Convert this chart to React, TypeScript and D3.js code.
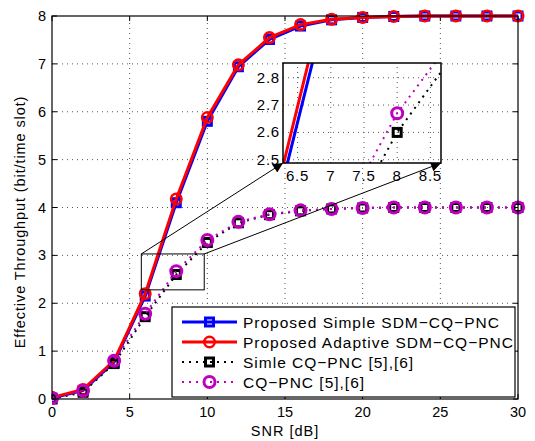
import * as d3 from 'd3';

// SNR points (dB)
const snr = [0, 2, 4, 6, 8, 10, 12, 14, 16, 18, 20, 22, 24, 26, 28, 30];

// effective throughput (bit/time slot)
const simpleSdm = [0.02, 0.18, 0.77, 2.15, 4.1, 5.8, 6.94, 7.51, 7.79, 7.92, 7.97, 7.99, 8, 8, 8, 8];
const adaptiveSdm = [0.03, 0.2, 0.8, 2.2, 4.18, 5.88, 6.98, 7.55, 7.82, 7.93, 7.97, 7.99, 8, 8, 8, 8];
const simpleCq = [0.0, 0.14, 0.74, 1.72, 2.6, 3.27, 3.68, 3.85, 3.93, 3.97, 3.99, 4, 4, 4, 4, 4];
const cqPnc = [0.02, 0.17, 0.8, 1.78, 2.67, 3.32, 3.7, 3.86, 3.94, 3.97, 3.99, 4, 4, 4, 4, 4];

const labels = [
  'Proposed Simple SDM\u2212CQ\u2212PNC',
  'Proposed Adaptive SDM\u2212CQ\u2212PNC',
  'Simle CQ\u2212PNC [5],[6]',
  'CQ\u2212PNC [5],[6]',
];

const xTicks = [0, 5, 10, 15, 20, 25, 30];
const yTicks = [0, 1, 2, 3, 4, 5, 6, 7, 8];

// zoomed area
const zoomBox = { x0: 5.75, x1: 9.8, y0: 2.28, y1: 3.03 };
const insetXDomain = [6.28, 8.66];
const insetYDomain = [2.488, 2.854];
const insetXTicks = [6.5, 7, 7.5, 8, 8.5];
const insetYTicks = [2.5, 2.6, 2.7, 2.8];

const font = '"Liberation Sans", Arial, sans-serif';
const MAG = '#bf00bf';

const series = [
  { name: labels[0], data: simpleSdm, color: '#0000ff', width: 3, dash: '', marker: 'square' },
  { name: labels[1], data: adaptiveSdm, color: '#ff0000', width: 3, dash: '', marker: 'circle' },
  { name: labels[2], data: simpleCq, color: '#000000', width: 2, dash: '2,5', marker: 'square' },
  { name: labels[3], data: cqPnc, color: MAG, width: 2, dash: '2,5', marker: 'circle' },
];

function Marker({ type, x, y, color }: { type: string; x: number; y: number; color: string }) {
  if (type === 'square') {
    const s = 8;
    return <rect x={x - s / 2} y={y - s / 2} width={s} height={s} fill="none" stroke={color} strokeWidth={3} />;
  }
  return <circle cx={x} cy={y} r={color === MAG ? 5.5 : 5.2} fill="none" stroke={color} strokeWidth={color === MAG ? 3 : 2.6} />;
}

export default function App() {
  const W = 535, H = 441;
  const x = d3.scaleLinear().domain([0, 30]).range([52, 518]);
  const y = d3.scaleLinear().domain([0, 8]).range([399, 16]);
  const ix = d3.scaleLinear().domain(insetXDomain).range([283, 441]);
  const iy = d3.scaleLinear().domain(insetYDomain).range([163, 63]);

  const mkLine = (sx: d3.ScaleLinear<number, number>, sy: d3.ScaleLinear<number, number>) =>
    d3.line<number>().x((_, i) => sx(snr[i])).y(d => sy(d));

  const mainLine = mkLine(x, y);
  const insetLine = mkLine(ix, iy);

  const [x0, x1] = x.range();
  const [y0, y1] = y.range();
  const [ix0, ix1] = ix.range();
  const [iy0, iy1] = iy.range();

  const rx0 = x(zoomBox.x0), rx1 = x(zoomBox.x1), ry0 = y(zoomBox.y1), ry1 = y(zoomBox.y0);

  const grid = { stroke: '#555', strokeWidth: 1, strokeDasharray: '1,4' };

  return (
    <svg width={W} height={H} style={{ position: 'absolute', left: 0, top: 0, background: '#fff' }} fontFamily={font}>
      <defs>
        <marker id="arr" viewBox="0 0 10 10" refX="10" refY="5" markerWidth="14" markerHeight="10" markerUnits="userSpaceOnUse" orient="auto">
          <path d="M0,0 L10,5 L0,10 z" fill="#000" />
        </marker>
        <clipPath id="mainClip">
          <rect x={x0} y={y1 - 8} width={x1 - x0 + 8} height={y0 - y1 + 16} />
        </clipPath>
        <clipPath id="insetClip">
          <rect x={ix0} y={iy1} width={ix1 - ix0} height={iy0 - iy1} />
        </clipPath>
      </defs>

      {/* main grid */}
      {xTicks.slice(1, -1).map(t => (
        <line key={'gx' + t} x1={x(t)} x2={x(t)} y1={y0} y2={y1} {...grid} />
      ))}
      {yTicks.slice(1, -1).map(t => (
        <line key={'gy' + t} x1={x0} x2={x1} y1={y(t)} y2={y(t)} {...grid} />
      ))}

      {/* main ticks */}
      {xTicks.map(t => (
        <g key={'tx' + t}>
          <line x1={x(t)} x2={x(t)} y1={y0} y2={y0 - 5} stroke="#000" />
          <line x1={x(t)} x2={x(t)} y1={y1} y2={y1 + 5} stroke="#000" />
          <text x={x(t)} y={y0 + 18} textAnchor="middle" fontSize={14.5}>{t}</text>
        </g>
      ))}
      {yTicks.map(t => (
        <g key={'ty' + t}>
          <line x1={x0} x2={x0 + 5} y1={y(t)} y2={y(t)} stroke="#000" />
          <line x1={x1} x2={x1 - 5} y1={y(t)} y2={y(t)} stroke="#000" />
          <text x={x0 - 6} y={y(t) + 5} textAnchor="end" fontSize={14.5}>{t}</text>
        </g>
      ))}

      {/* series */}
      <g clipPath="url(#mainClip)">
        {series.map(s => (
          <g key={s.name}>
            <path d={mainLine(s.data) || ''} fill="none" stroke={s.color} strokeWidth={s.width}
              strokeDasharray={s.dash || undefined} />
            {s.data.map((v, i) => (
              <Marker key={i} type={s.marker} x={x(snr[i])} y={y(v)} color={s.color} />
            ))}
          </g>
        ))}
      </g>

      <rect x={x0} y={y1} width={x1 - x0} height={y0 - y1} fill="none" stroke="#000" strokeWidth={1.2} />

      {/* zoom box + connectors */}
      <rect x={rx0} y={ry0} width={rx1 - rx0} height={ry1 - ry0} fill="none" stroke="#000" strokeWidth={1} />
      <line x1={rx0} y1={ry0} x2={ix0} y2={iy0} stroke="#000" strokeWidth={1} markerEnd="url(#arr)" />
      <line x1={rx1} y1={ry0} x2={ix1} y2={iy0} stroke="#000" strokeWidth={1} markerEnd="url(#arr)" />

      {/* inset */}
      <rect x={ix0} y={iy1} width={ix1 - ix0} height={iy0 - iy1} fill="#fff" />
      {insetXTicks.map(t => (
        <line key={'igx' + t} x1={ix(t)} x2={ix(t)} y1={iy0} y2={iy1} {...grid} />
      ))}
      {insetYTicks.map(t => (
        <line key={'igy' + t} x1={ix0} x2={ix1} y1={iy(t)} y2={iy(t)} {...grid} />
      ))}
      <g clipPath="url(#insetClip)">
        {series.map(s => (
          <g key={'i' + s.name}>
            <path d={insetLine(s.data) || ''} fill="none" stroke={s.color} strokeWidth={s.width}
              strokeDasharray={s.dash || undefined} />
            {s.data.map((v, i) => (
              <Marker key={i} type={s.marker} x={ix(snr[i])} y={iy(v)} color={s.color} />
            ))}
          </g>
        ))}
      </g>
      <rect x={ix0} y={iy1} width={ix1 - ix0} height={iy0 - iy1} fill="none" stroke="#000" strokeWidth={1.5} />
      {insetXTicks.map(t => (
        <text key={'itx' + t} x={ix(t)} y={iy0 + 18} textAnchor="middle" fontSize={15} letterSpacing={0.8}>{t}</text>
      ))}
      {insetYTicks.map(t => (
        <text key={'ity' + t} x={ix0 - 3} y={iy(t) + 5} textAnchor="end" fontSize={15} letterSpacing={0.8}>{t}</text>
      ))}

      {/* legend */}
      <g>
        <rect x={172} y={307} width={343} height={90} fill="#fff" stroke="#000" strokeWidth={1.2} />
        {series.map((s, i) => {
          const ly = 322 + i * 20;
          return (
            <g key={'lg' + i}>
              <line x1={182} x2={237} y1={ly} y2={ly} stroke={s.color} strokeWidth={s.width}
                strokeDasharray={s.dash || undefined} />
              <Marker type={s.marker} x={209.5} y={ly} color={s.color} />
              <text x={243} y={ly + 5.5} fontSize={15.5} letterSpacing={1}>{s.name}</text>
            </g>
          );
        })}
      </g>

      {/* axis labels */}
      <text x={(x0 + x1) / 2} y={436} textAnchor="middle" fontSize={14.5} letterSpacing={1}>SNR [dB]</text>
      <text transform={`translate(25,222) rotate(-90)`} textAnchor="middle" fontSize={14.5} letterSpacing={0.9}>
        Effective Throughput (bit/time slot)
      </text>
    </svg>
  );
}
